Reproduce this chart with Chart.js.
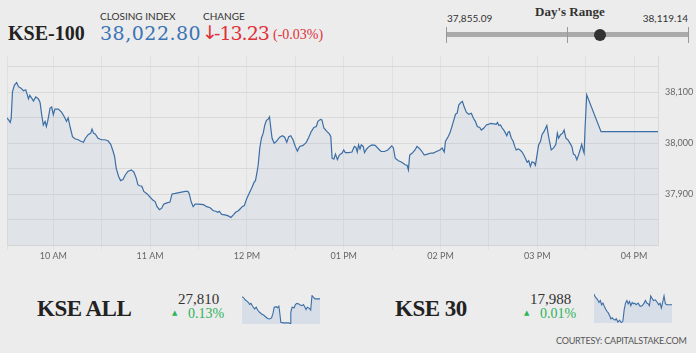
<!DOCTYPE html>
<html>
<head>
<meta charset="utf-8">
<script src="https://cdn.jsdelivr.net/npm/chart.js@4.4.1/dist/chart.umd.min.js"></script>
<style>
  html, body { margin: 0; padding: 0; }
  body { width: 696px; height: 353px; background: #ececec; position: relative; overflow: hidden; }
  .t { position: absolute; white-space: nowrap; }
  .lato { font-family: Lato, sans-serif; }
  .tnr { font-family: "Liberation Serif", serif; }
  .dvs { font-family: "DejaVu Serif", serif; }
  canvas { position: absolute; }
  #range-bar { position: absolute; left: 447px; top: 32px; width: 241px; height: 5px; background: #aaaaaa; }
  .rtick { position: absolute; top: 27px; width: 1px; height: 16px; background: #999; }
  #range-dot { position: absolute; width: 12px; height: 12px; border-radius: 50%; background: #333; top: 29px; }
</style>
</head>
<body>
<div class="t tnr" style="left:8px;top:23px;font-size:20px;line-height:20px;font-weight:bold;color:#222;">KSE-100</div>
<div class="t lato" style="left:100px;top:11px;font-size:10px;line-height:10px;color:#333;">CLOSING INDEX</div>
<div class="t dvs" id="close-val" style="left:100px;top:23.5px;font-size:19px;line-height:19px;color:#3b74b4;letter-spacing:0.5px;"></div>
<div class="t lato" style="left:203px;top:11px;font-size:10px;line-height:10px;color:#333;">CHANGE</div>
<div class="t" style="left:202px;top:23px;font-size:19px;line-height:19px;color:#e0303a;font-family:'DejaVu Sans';">↓</div>
<div class="t dvs" id="chg-val" style="left:214px;top:23.5px;font-size:19px;line-height:19px;color:#e0303a;letter-spacing:-1px;"></div>
<div class="t tnr" id="chg-pct" style="left:273px;top:27.5px;font-size:14px;line-height:14px;color:#e0303a;"></div>

<div class="t tnr" style="left:535px;top:5px;font-size:13px;line-height:13px;font-weight:bold;color:#333;">Day's Range</div>
<div class="t lato" id="low-val" style="left:447px;top:12.8px;font-size:10px;line-height:10px;color:#333;"></div>
<div class="t lato" id="high-val" style="right:8px;top:12.8px;font-size:10px;line-height:10px;color:#333;"></div>
<div id="range-bar"></div>
<div class="rtick" style="left:446px;"></div>
<div class="rtick" style="left:567px;"></div>
<div class="rtick" style="left:688px;"></div>
<div id="range-dot"></div>

<canvas id="main" width="696" height="215" style="left:0;top:55px;"></canvas>

<div class="t tnr" style="left:37px;top:296.5px;font-size:23px;line-height:23px;font-weight:bold;color:#222;letter-spacing:-0.5px;">KSE ALL</div>
<div class="t tnr" id="all-val" style="left:178px;top:292.4px;font-size:15px;line-height:15px;color:#333;"></div>
<div class="t" style="left:172px;top:310px;font-size:7px;line-height:7px;color:#2db35a;font-family:'DejaVu Sans';">▲</div>
<div class="t tnr" id="all-pct" style="left:188px;top:307.3px;font-size:14px;line-height:14px;color:#2db35a;"></div>
<canvas id="spark-all" width="78" height="29" style="left:242px;top:295px;"></canvas>

<div class="t tnr" style="left:395px;top:296.5px;font-size:23px;line-height:23px;font-weight:bold;color:#222;letter-spacing:-0.5px;">KSE 30</div>
<div class="t tnr" id="k30-val" style="left:530px;top:292.4px;font-size:15px;line-height:15px;color:#333;"></div>
<div class="t" style="left:524px;top:310px;font-size:7px;line-height:7px;color:#2db35a;font-family:'DejaVu Sans';">▲</div>
<div class="t tnr" id="k30-pct" style="left:540px;top:307.3px;font-size:14px;line-height:14px;color:#2db35a;"></div>
<canvas id="spark-30" width="78" height="30" style="left:594px;top:293px;"></canvas>

<div class="t lato" style="left:556px;top:336px;font-size:9px;line-height:9px;color:#555;letter-spacing:-0.2px;">COURTESY: CAPITALSTAKE.COM</div>

<script>
// summary numbers
const closingIndex = "38,022.80";
const changeValue = "-13.23";
const changePct = "(-0.03%)";
const dayLow = 37855.09;
const dayHigh = 38119.14;
const lastValue = 38022.80;

// KSE-100 intraday, minutes since midnight
const times = [
  571.2, 572.3, 573.3, 573.9, 574.7, 575.9, 577.3, 578.4, 580.0, 581.5, 582.9, 583.8, 584.6, 585.4, 586.7, 587.7,
  589.1, 590.8, 591.8, 592.8, 593.8, 594.9, 595.7, 596.5, 598.0, 599.0, 600.0, 601.0, 603.1, 605.1, 606.8, 608.2,
  609.2, 610.5, 611.9, 613.4, 615.4, 617.1, 618.7, 619.9, 621.6, 623.2, 624.0, 624.9, 626.1, 627.7, 629.8, 631.9,
  633.9, 635.6, 637.0, 638.0, 639.0, 640.5, 641.7, 643.2, 644.6, 646.2, 648.3, 649.9, 651.4, 652.4, 653.5, 654.9,
  656.1, 658.2, 660.2, 661.7, 663.1, 664.3, 665.8, 667.2, 668.4, 670.0, 672.3, 673.6, 675.6, 678.7, 681.8, 683.4,
  684.2, 685.5, 686.7, 687.9, 690.0, 693.1, 695.1, 697.2, 699.2, 700.7, 701.9, 702.9, 704.4, 706.4, 708.5, 710.1,
  711.6, 713.0, 714.7, 715.9, 717.1, 718.4, 719.8, 721.2, 722.9, 724.5, 725.3, 726.2, 727.0, 728.0, 729.0, 730.1,
  731.1, 732.1, 733.1, 734.0, 734.8, 735.6, 736.9, 738.3, 740.3, 742.0, 743.4, 744.7, 745.9, 747.2, 748.6, 750.0,
  751.3, 752.7, 754.8, 756.8, 758.2, 759.9, 761.5, 763.0, 764.0, 765.6, 766.5, 767.7, 769.7, 771.2, 772.0, 772.8,
  773.9, 774.9, 776.1, 777.3, 779.0, 780.0, 781.0, 783.1, 785.1, 786.6, 787.6, 788.4, 789.2, 790.1, 790.9, 792.1,
  792.9, 794.2, 795.8, 797.5, 799.5, 801.6, 803.2, 805.3, 807.3, 809.8, 810.8, 811.9, 813.9, 816.0, 818.1, 819.3,
  820.1, 820.9, 822.5, 824.2, 825.4, 826.6, 828.3, 829.9, 832.0, 834.0, 835.5, 837.5, 839.6, 841.0, 842.3, 843.1,
  844.7, 845.8, 846.8, 848.0, 849.3, 850.3, 851.3, 852.6, 853.6, 854.6, 856.0, 857.5, 859.1, 860.4, 861.6, 862.8,
  864.3, 865.3, 866.9, 868.4, 869.6, 871.0, 873.1, 874.5, 875.3, 876.2, 877.2, 878.2, 879.2, 880.3, 881.1, 881.9,
  882.7, 883.9, 884.9, 886.0, 886.9, 888.1, 889.3, 890.6, 891.6, 892.6, 893.7, 894.7, 895.7, 896.7, 898.0, 898.8,
  899.8, 900.8, 902.0, 902.9, 904.1, 904.9, 905.9, 907.0, 908.6, 910.1, 911.5, 912.4, 913.2, 914.4, 915.7, 916.6,
  917.7, 918.9, 920.3, 921.4, 922.4, 923.4, 924.5, 925.5, 926.7, 927.5, 928.4, 929.0, 929.6, 930.6, 939.5, 974.8
];
const values = [
  38050, 38046, 38041, 38049, 38101, 38114, 38119, 38111, 38108, 38103, 38105, 38096, 38087, 38094, 38088, 38083,
  38091, 38087, 38080, 38056, 38036, 38043, 38033, 38043, 38069, 38071, 38056, 38067, 38067, 38061, 38052, 38043,
  38050, 38031, 38013, 38009, 38007, 38004, 38002, 38010, 38017, 38020, 38028, 38020, 38018, 38010, 38007, 38007,
  38005, 37998, 37985, 37974, 37951, 37935, 37927, 37929, 37938, 37945, 37948, 37944, 37932, 37919, 37917, 37916,
  37906, 37901, 37894, 37889, 37886, 37876, 37870, 37873, 37881, 37883, 37885, 37901, 37902, 37904, 37906, 37906,
  37902, 37885, 37876, 37881, 37881, 37880, 37876, 37874, 37868, 37867, 37865, 37867, 37861, 37860, 37858, 37855,
  37860, 37865, 37868, 37872, 37876, 37878, 37891, 37901, 37912, 37924, 37927, 37942, 37958, 37991, 38010, 38020,
  38036, 38045, 38047, 38052, 38030, 38010, 38000, 38004, 38012, 38015, 38012, 38002, 38013, 38015, 38007, 37994,
  37985, 37994, 37996, 38002, 38011, 38023, 38031, 38033, 38043, 38047, 38046, 38030, 38023, 38018, 38013, 37971,
  37969, 37979, 37968, 37977, 37981, 37987, 37982, 37982, 37983, 37994, 37992, 37983, 37997, 37989, 37997, 37994,
  37982, 37989, 37994, 37997, 37996, 37989, 37984, 37984, 37987, 37995, 37991, 37971, 37966, 37963, 37958, 37957,
  37948, 37977, 37981, 37987, 37994, 37991, 37985, 37977, 37979, 37981, 37981, 37984, 37987, 37991, 37983, 38004,
  38013, 38020, 38030, 38043, 38057, 38059, 38075, 38080, 38082, 38072, 38061, 38057, 38059, 38049, 38043, 38033,
  38031, 38026, 38030, 38036, 38037, 38039, 38038, 38037, 38041, 38035, 38036, 38030, 38026, 38020, 38015, 38022,
  38023, 38010, 38005, 37994, 37987, 37989, 37987, 37983, 37977, 37971, 37963, 37966, 37955, 37964, 37962, 37957,
  37977, 37997, 38004, 38017, 38023, 38028, 38035, 38013, 37987, 37991, 37998, 38020, 38010, 38017, 38020, 38026,
  38010, 38007, 38000, 37994, 37979, 37977, 37968, 37977, 37989, 37998, 37987, 37981, 38030, 38095, 38023, 38022.8
];

// x ticks every half hour, labels on the hour
const xTicks = [600, 630, 660, 690, 720, 750, 780, 810, 840, 870, 900, 930, 960];
const yTicks = [37800, 37850, 37900, 37950, 38000, 38050, 38100, 38150];

// KSE ALL sparkline
const allTimes = [571, 579.6, 588.2, 596.8, 605.4, 610.5, 617.4, 627.7, 636.3, 644.9, 651.8, 662.1, 672.4, 682.7, 693, 703.4,
  713.7, 724, 730.9, 737.7, 748.1, 754.9, 761.8, 765.2, 772.1, 785.9, 799.6, 813.4, 820.3, 823.7, 830.6, 840.9,
  847.8, 854.6, 865, 871.8, 882.1, 889, 895.9, 902.8, 909.6, 919.9, 926.8, 933.7, 940.6, 949.2, 975];
const allValues = [27814, 27812, 27808, 27806, 27803, 27800, 27802, 27796, 27792, 27795, 27790, 27786, 27783, 27781, 27778, 27775,
  27774, 27776, 27783, 27795, 27796, 27794, 27797, 27789, 27768, 27767, 27767, 27767, 27766, 27786, 27795, 27794,
  27800, 27802, 27801, 27799, 27798, 27800, 27796, 27791, 27795, 27793, 27790, 27816, 27813, 27810, 27810];

// KSE 30 sparkline
const k30Times = [571, 576.2, 583, 589.9, 596.8, 603.7, 610.5, 617.4, 624.3, 631.2, 638, 644.9, 651.8, 658.7, 665.5, 672.4,
  679.3, 686.2, 694.8, 703.4, 712, 720.6, 727.4, 734.3, 741.2, 748.1, 754.9, 761.8, 768.7, 775.6, 782.4, 789.3,
  799.6, 810, 820.3, 830.6, 837.4, 844.3, 851.2, 858.1, 865, 871.8, 878.7, 889, 899.3, 906.2, 913.1, 919.9,
  926.8, 933.7, 940.6, 947.5, 975];
const k30Values = [18004.5, 18000.5, 17998, 17995.5, 17991.5, 17994.5, 17988, 17990.5, 17985.5, 17981.5, 17978, 17975.5, 17971.5, 17966.5, 17968, 17965.5,
  17964.5, 17966.5, 17961.5, 17964.5, 17960.5, 17963, 17980.5, 17990.5, 17994.5, 17989.5, 17993, 17986.5, 17991.5, 17989.5, 17990.5, 17988,
  17990.5, 17985.5, 17986.5, 17990.5, 17994.5, 17990.5, 17989.5, 17986.5, 18001.5, 17998, 17994.5, 17995.5, 17991.5, 17988, 17990.5, 17983,
  17991.5, 18001.5, 17989.5, 17988, 17988];

const allClose = "27,810", allPct = "0.13%";
const k30Close = "17,988", k30Pct = "0.01%";

document.getElementById("close-val").textContent = closingIndex;
document.getElementById("chg-val").textContent = changeValue;
document.getElementById("chg-pct").textContent = changePct;
document.getElementById("low-val").textContent = dayLow.toLocaleString("en-US", { minimumFractionDigits: 2 });
document.getElementById("high-val").textContent = dayHigh.toLocaleString("en-US", { minimumFractionDigits: 2 });
document.getElementById("all-val").textContent = allClose;
document.getElementById("all-pct").textContent = allPct;
document.getElementById("k30-val").textContent = k30Close;
document.getElementById("k30-pct").textContent = k30Pct;

// dot on the day's range bar
const frac = (lastValue - dayLow) / (dayHigh - dayLow);
document.getElementById("range-dot").style.left = (447 + frac * 241 - 6) + "px";

function hourLabel(m) {
  const h = Math.floor(m / 60);
  const h12 = h > 12 ? h - 12 : h;
  return String(h12).padStart(2, "0") + (h >= 12 ? " PM" : " AM");
}

const pairs = (xs, ys) => xs.map((x, i) => ({ x: x, y: ys[i] }));

new Chart(document.getElementById("main"), {
  type: "line",
  data: {
    datasets: [{
      data: pairs(times, values),
      borderColor: "#3b6ea5",
      borderWidth: 1.2,
      backgroundColor: "rgba(90,130,185,0.08)",
      fill: "start",
      pointRadius: 0,
      tension: 0
    }]
  },
  options: {
    responsive: false,
    devicePixelRatio: 1,
    animation: false,
    layout: { padding: { left: 7, top: 1, right: 0, bottom: 0 } },
    plugins: { legend: { display: false }, tooltip: { enabled: false } },
    scales: {
      x: {
        type: "linear",
        min: 571.3,
        max: 974.8,
        afterBuildTicks: (axis) => { axis.ticks = [571.3].concat(xTicks).map(v => ({ value: v })); },
        afterFit: (axis) => { axis.height = 24.5; axis.paddingLeft = 0; axis.paddingRight = 0; },
        grid: { color: "#e0e0e0", tickLength: 4, drawTicks: true },
        border: { color: "#d4d4d4" },
        ticks: {
          autoSkip: false,
          maxRotation: 0,
          padding: 1,
          color: "#666",
          font: { family: "Lato", size: 9 },
          callback: (v) => (v % 60 === 0 ? hourLabel(v) : "")
        }
      },
      y: {
        position: "right",
        min: 37800,
        max: 38171,
        afterBuildTicks: (axis) => { axis.ticks = yTicks.map(v => ({ value: v })); },
        afterFit: (axis) => { axis.width = 38; axis.paddingTop = 0; axis.paddingBottom = 0; },
        grid: { color: "#d9d9d9", drawTicks: false },
        border: { color: "#d9d9d9" },
        ticks: {
          padding: 7,
          color: "#666",
          font: { family: "Lato", size: 9 },
          callback: (v) => (v % 100 === 0 && v > 37800 ? v.toLocaleString("en-US") : "")
        }
      }
    }
  }
});

function spark(id, xs, ys, yMin, yMax) {
  new Chart(document.getElementById(id), {
    type: "line",
    data: {
      datasets: [{
        data: pairs(xs, ys),
        borderColor: "#3b6ea5",
        borderWidth: 1.1,
        backgroundColor: "#d7dee7",
        fill: "start",
        pointRadius: 0,
        tension: 0
      }]
    },
    options: {
      responsive: false,
      devicePixelRatio: 1,
      animation: false,
      layout: { padding: 0 },
      plugins: { legend: { display: false }, tooltip: { enabled: false } },
      scales: {
        x: { type: "linear", display: false, min: 571, max: 975 },
        y: { display: false, min: yMin, max: yMax }
      }
    }
  });
}

spark("spark-all", allTimes, allValues, 27765, 27817);
spark("spark-30", k30Times, k30Values, 17960, 18006);
</script>
</body>
</html>
